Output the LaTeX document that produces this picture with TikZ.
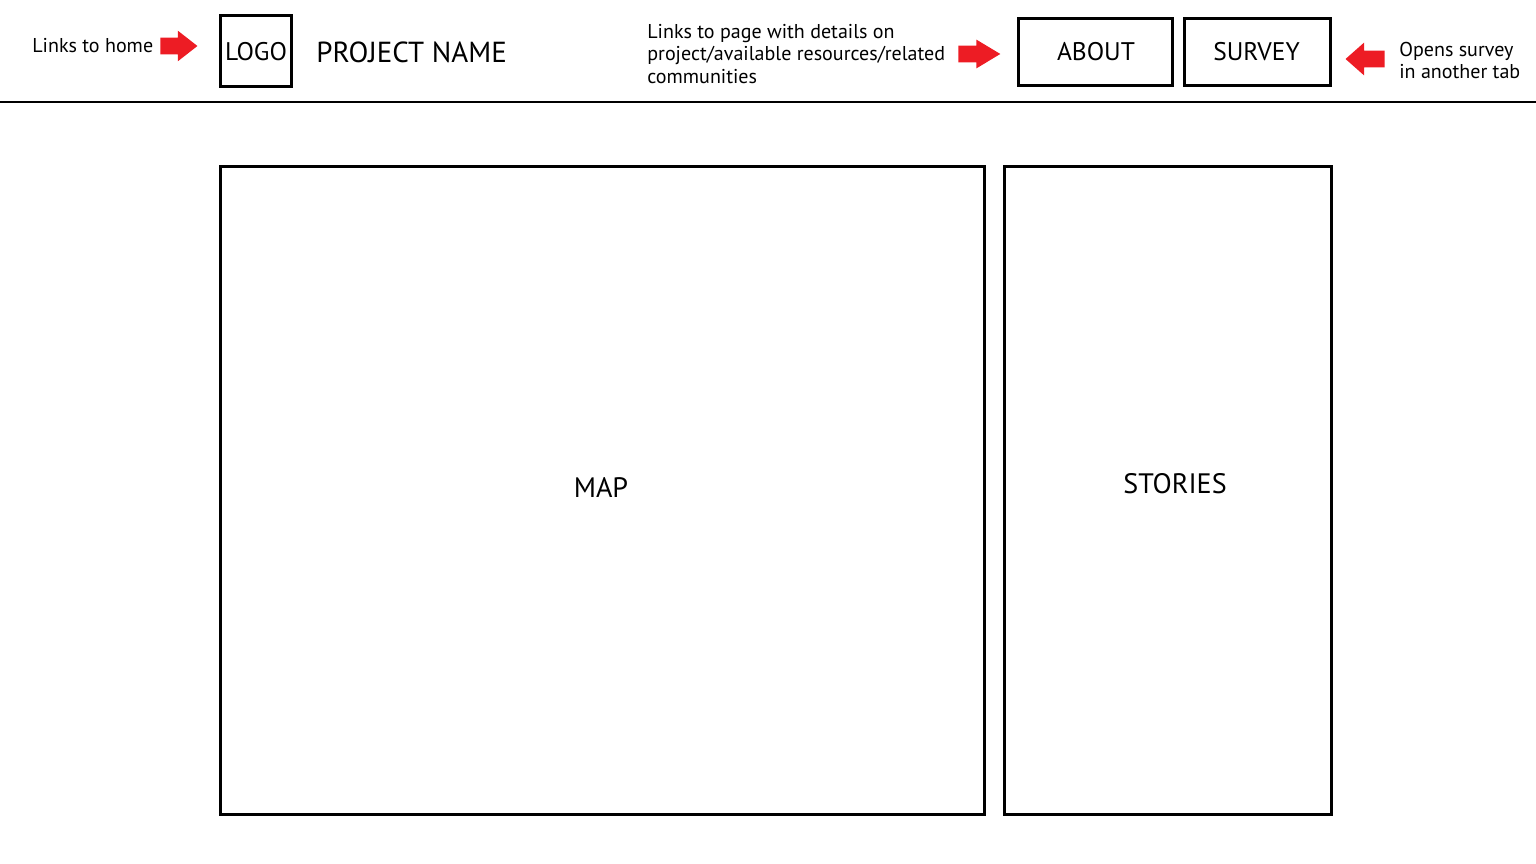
\documentclass[tikz,border=0pt]{standalone}
\usepackage{fontspec}
\setmainfont{PT Sans}
\usetikzlibrary{shapes.arrows}
\definecolor{pointred}{HTML}{ED1C24}
\tikzset{
  frame/.style={draw=black,line width=1.7pt,inner sep=0},
  note/.style={font=\fontsize{11.4}{13}\selectfont,align=left,anchor=west,inner sep=0},
  caption/.style={font=\fontsize{14.5}{17}\selectfont,inner sep=0},
  bigcaption/.style={font=\fontsize{16}{19}\selectfont,inner sep=0},
  pointer/.style={single arrow,fill=pointred,draw=none,inner xsep=0,inner ysep=0.16cm,single arrow head extend=#1,anchor=tip}
}

\begin{document}
\begin{tikzpicture}[x=0.02cm,y=-0.02cm]
            \useasboundingbox (0,0) rectangle (1536,864);
            % header bar
            \node[note] (hometext) at (32,46) {Links to home};
            \node[pointer=0.14cm,minimum height=0.74cm,single arrow tip angle=76] (homearrow) at (198,46) {};
            \node[frame,minimum width=1.42cm,minimum height=1.42cm] (logo) at (256,51) {};
            \node[caption] (logotext) at (256,52) {LOGO};
            \node[caption,font=\fontsize{16.5}{19}\selectfont,anchor=west] (project) at (316,52) {PROJECT NAME};
            \node[note] (abouttext) at (647,54) {Links to page with details on\\project/available resources/related\\communities};
            \node[pointer=0.12cm,minimum height=0.84cm,single arrow tip angle=62] (aboutarrow) at (1001,54) {};
            \node[frame,minimum width=3.08cm,minimum height=1.34cm] (about) at (1095.5,52) {};
            \node[caption] (abouttitle) at (1096,52) {ABOUT};
            \node[frame,minimum width=2.92cm,minimum height=1.34cm] (survey) at (1257.5,52) {};
            \node[caption] (surveytitle) at (1256.5,52) {SURVEY};
            \node[pointer=0.16cm,minimum height=0.78cm,single arrow tip angle=83,shape border rotate=180] (surveyarrow) at (1345,59) {};
            \node[note] (surveytext) at (1399,60.5) {Opens survey\\in another tab};
            \draw[line width=1.1pt] (0,102) -- (1536,102);
            % main panels
            \node[frame,minimum width=15.28cm,minimum height=12.96cm] (map) at (602.5,490.5) {};
            \node[bigcaption] (maptext) at (601,488) {MAP};
            \node[frame,minimum width=6.54cm,minimum height=12.96cm] (stories) at (1168,490.5) {};
            \node[bigcaption] (storiestext) at (1175,484) {STORIES};
\end{tikzpicture}
\end{document}
